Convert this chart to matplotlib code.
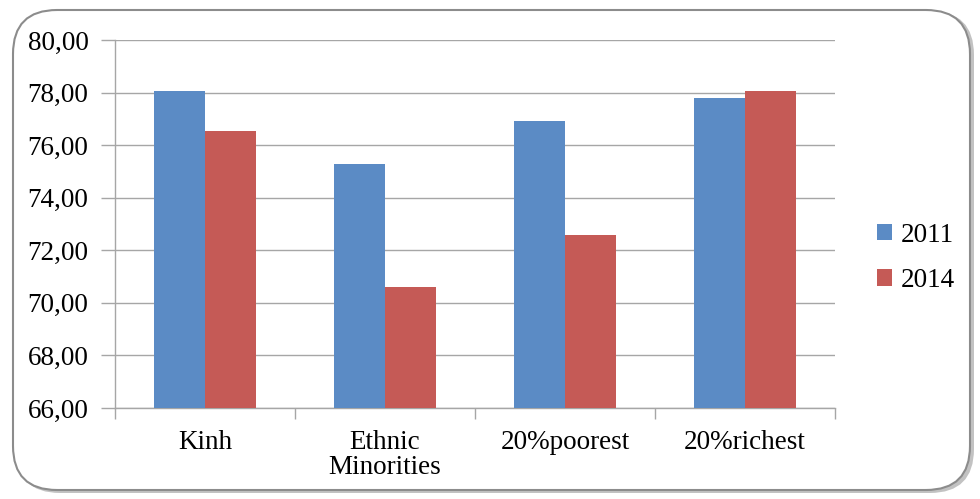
import matplotlib.pyplot as plt
from matplotlib.patches import FancyBboxPatch
import numpy as np

plt.rcParams['font.family'] = ['Liberation Serif', 'DejaVu Serif']

categories = ["Kinh", "Ethnic\nMinorities", "20%poorest", "20%richest"]
values_2011 = [78.05, 75.3, 76.9, 77.8]
values_2014 = [76.55, 70.6, 72.6, 78.05]
years = ["2011", "2014"]
yticks = [66, 68, 70, 72, 74, 76, 78, 80]

blue = "#5B8BC5"
red = "#C55A56"
grid_col = "#A6A6A6"
fs = 19.5

fig = plt.figure(figsize=(9.8, 4.99), dpi=100)

# rounded frame with a soft shadow, kept behind the axes
W, H = 980, 499
shadow = FancyBboxPatch((16 / W, 6 / H), 958 / W, 482 / H,
                        boxstyle="round,pad=0,rounding_size=0.045",
                        transform=fig.transFigure, facecolor="#9a9a9a",
                        edgecolor="none", alpha=0.6, mutation_aspect=W / H,
                        zorder=-2)
frame = FancyBboxPatch((13 / W, 9 / H), 957 / W, 480 / H,
                       boxstyle="round,pad=0,rounding_size=0.045",
                       transform=fig.transFigure, facecolor="white",
                       edgecolor="#8c8c8c", linewidth=1.5, mutation_aspect=W / H,
                       zorder=-1)
fig.patches.extend([shadow, frame])

ax = fig.add_axes([115 / W, (H - 408) / H, 720 / W, 368 / H])
ax.set_facecolor("none")

x = np.arange(len(categories))
width = 0.283
ax.bar(x - width / 2, values_2011, width, color=blue, label=years[0], zorder=3)
ax.bar(x + width / 2, values_2014, width, color=red, label=years[1], zorder=3)

ax.set_xlim(-0.5, len(categories) - 0.5)
ax.set_ylim(66, 80)
ax.set_yticks(yticks)
ax.set_yticklabels([f"{v:.2f}".replace(".", ",") for v in yticks], fontsize=fs)
ax.yaxis.grid(True, color=grid_col, linewidth=1, zorder=0)

ax.set_xticks(x)
ax.set_xticklabels(categories, fontsize=fs, linespacing=1.0)
ax.set_xticks(np.arange(len(categories) + 1) - 0.5, minor=True)
ax.tick_params(axis="x", which="major", length=0, pad=16)
ax.tick_params(axis="x", which="minor", length=8, color=grid_col, width=1)
ax.tick_params(axis="y", length=10, color=grid_col, width=1, pad=9)

for side in ["top", "right"]:
    ax.spines[side].set_visible(False)
for side in ["left", "bottom"]:
    ax.spines[side].set_color(grid_col)
    ax.spines[side].set_linewidth(1)

fig.legend(loc="center left", bbox_to_anchor=(853 / W, 1 - 258 / H),
           frameon=False, fontsize=fs, handlelength=0.55, handleheight=0.55,
           handletextpad=0.3, labelspacing=0.75)

fig.savefig("out.png", dpi=100)
